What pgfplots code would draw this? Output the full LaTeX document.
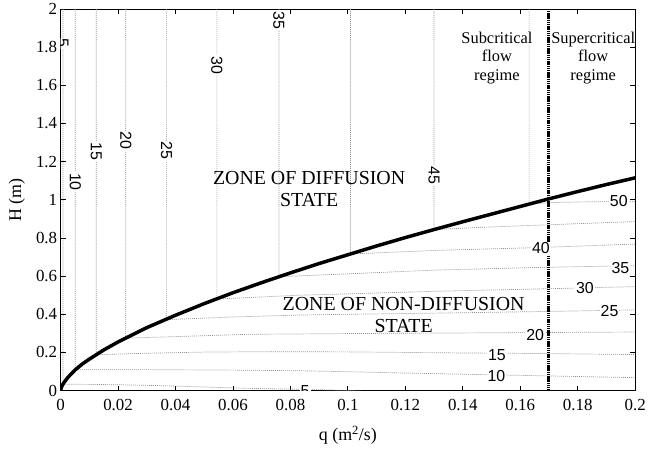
\documentclass[border=0pt]{standalone}
\usepackage{pgfplots}
\pgfplotsset{compat=1.18}
\usepackage{fontspec}
\setmainfont{Liberation Serif}
\newfontfamily\arial{Liberation Sans}

\tikzset{
  clab/.style={font=\arial\fontsize{16bp}{18bp}\selectfont, fill=white, inner sep=1bp},
  contour/.style={gray!85, line width=0.7bp, dash pattern=on 1bp off 1bp},
}

\begin{document}
\begin{tikzpicture}
  \begin{axis}[
      name=ax,
      scale only axis,
      width=578bp, height=384bp,
      xmin=0, xmax=0.2, ymin=0, ymax=2,
      xtick={0,0.02,...,0.2},
      xticklabels={0,0.02,0.04,0.06,0.08,0.1,0.12,0.14,0.16,0.18,0.2},
      ytick={0,0.2,...,2},
      yticklabels={0,0.2,0.4,0.6,0.8,1,1.2,1.4,1.6,1.8,2},
      tick align=inside,
      major tick length=5bp,
      xtick pos=both, ytick pos=both,
      ticklabel style={font=\fontsize{17bp}{19bp}\selectfont},
      xticklabel style={yshift=-5bp},
      label style={font=\fontsize{18bp}{20bp}\selectfont},
      xlabel={q (m\textsuperscript{2}/s)},
      ylabel={H (m)},
      xlabel style={at={(axis description cs:0.5,0)}, anchor=base, yshift=-50bp},
      ylabel style={at={(axis description cs:-0.0761,0.5)}, anchor=center},
      axis line style={line width=0.8bp},
      every tick/.style={line width=0.8bp, black},
    ]

    % contour lines (vertical above the boundary, almost horizontal below it)
    \addplot[contour] coordinates {(0.0008,2) (0.0008,0.034) (0.02,0.031) (0.035,0.026) (0.05,0.019) (0.065,0.012) (0.083,0.007) (0.1,0.001) (0.105,-0.003)};
    \addplot[contour] coordinates {(0.0051,2) (0.0051,0.109) (0.03,0.110) (0.065,0.107) (0.083,0.104) (0.1,0.099) (0.13,0.089) (0.15,0.083) (0.2,0.068)};
    \addplot[contour] coordinates {(0.0124,2) (0.0124,0.188) (0.03,0.196) (0.05,0.202) (0.07,0.204) (0.1,0.203) (0.135,0.198) (0.17,0.194) (0.2,0.189)};
    \addplot[contour] coordinates {(0.0227,2) (0.0227,0.275) (0.04,0.283) (0.065,0.295) (0.1,0.299) (0.135,0.302) (0.2,0.307)};
    \addplot[contour] coordinates {(0.0369,2) (0.0369,0.372) (0.06,0.386) (0.083,0.396) (0.1,0.400) (0.135,0.407) (0.17,0.415) (0.2,0.423)};
    \addplot[contour] coordinates {(0.0544,2) (0.0544,0.480) (0.083,0.500) (0.1,0.507) (0.134,0.522) (0.17,0.534) (0.2,0.545)};
    \addplot[contour] coordinates {(0.0760,2) (0.0760,0.597) (0.1,0.612) (0.131,0.632) (0.165,0.645) (0.2,0.655)};
    \addplot[contour] coordinates {(0.1009,2) (0.1009,0.716) (0.131,0.735) (0.167,0.750) (0.2,0.768)};
    \addplot[contour] coordinates {(0.1300,2) (0.1300,0.844) (0.15,0.858) (0.175,0.872) (0.2,0.886)};
    \addplot[contour] coordinates {(0.1631,2) (0.1631,0.977) (0.17,0.985) (0.185,0.990) (0.2,0.990)};

    % boundary between diffusion and non-diffusion states
    \addplot[black, line width=3.5bp] coordinates {
      (0,0) (0.0001,0.009) (0.0002,0.014) (0.0005,0.025) (0.001,0.039) (0.0025,0.069)
      (0.005,0.108) (0.0075,0.139) (0.01,0.165) (0.015,0.213) (0.02,0.255) (0.03,0.330)
      (0.04,0.395) (0.05,0.456) (0.06,0.513) (0.07,0.566) (0.08,0.617) (0.09,0.666)
      (0.10,0.712) (0.11,0.758) (0.12,0.802) (0.13,0.844) (0.14,0.885) (0.15,0.925)
      (0.16,0.965) (0.17,1.005) (0.18,1.043) (0.19,1.080) (0.20,1.115)};

    % critical flow line
    \addplot[black, line width=3bp, dash pattern=on 1.5bp off 0.7bp] coordinates {(0.17,0) (0.17,2)};

    % contour labels
    \node[clab, rotate=-90] at (axis cs:0.0008,1.82) {5};
    \node[clab, rotate=-90] at (axis cs:0.0051,1.094) {10};
    \node[clab, rotate=-90] at (axis cs:0.0124,1.255) {15};
    \node[clab, rotate=-90] at (axis cs:0.0227,1.309) {20};
    \node[clab, rotate=-90] at (axis cs:0.0369,1.257) {25};
    \node[clab, rotate=-90] at (axis cs:0.0544,1.705) {30};
    \node[clab, rotate=-90] at (axis cs:0.0760,1.939) {35};
    \node[clab, rotate=-90] at (axis cs:0.1300,1.127) {45};
    \node[clab] at (axis cs:0.0851,-0.003) {5};
    \node[clab] at (axis cs:0.1517,0.074) {10};
    \node[clab] at (axis cs:0.1519,0.186) {15};
    \node[clab] at (axis cs:0.1652,0.293) {20};
    \node[clab] at (axis cs:0.1911,0.418) {25};
    \node[clab] at (axis cs:0.1825,0.536) {30};
    \node[clab] at (axis cs:0.1949,0.641) {35};
    \node[clab] at (axis cs:0.1672,0.745) {40};
    \node[clab] at (axis cs:0.1943,0.991) {50};

    % zone and regime texts
    \node[align=center, font=\fontsize{20bp}{22bp}\selectfont] at (axis cs:0.0865,1.057) {ZONE OF DIFFUSION\\STATE};
    \node[align=center, font=\fontsize{20bp}{22bp}\selectfont] at (axis cs:0.1194,0.396) {ZONE OF NON-DIFFUSION\\STATE};
    \node[align=center, font=\fontsize{16.5bp}{19bp}\selectfont] at (axis cs:0.1519,1.743) {Subcritical\\flow\\regime};
    \node[align=center, font=\fontsize{16.5bp}{19bp}\selectfont] at (axis cs:0.1854,1.743) {Supercritical\\flow\\regime};
  \end{axis}
  \path ([xshift=-61bp,yshift=-58bp]ax.south west) rectangle ([xshift=10bp,yshift=9bp]ax.north east);
\end{tikzpicture}
\end{document}
